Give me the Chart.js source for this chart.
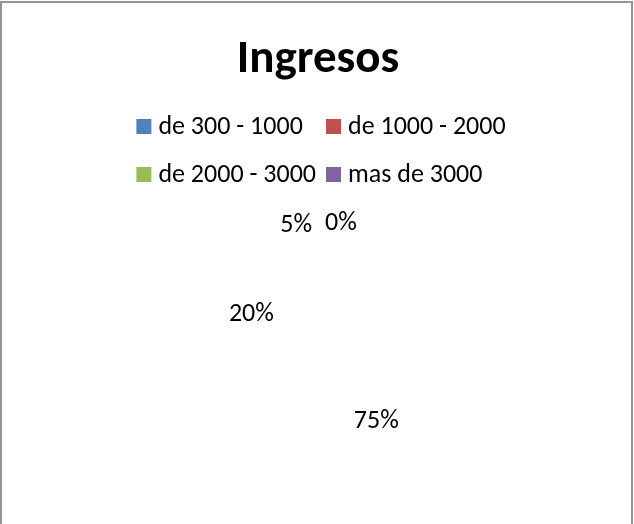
<!DOCTYPE html>
<html><head><meta charset="utf-8">
<script src="https://cdn.jsdelivr.net/npm/chart.js@4.4.0/dist/chart.umd.min.js"></script>
<style>
html,body{margin:0;padding:0;background:#fff;overflow:hidden}
#frame{position:absolute;left:0;top:1px;width:629px;height:600px;border:2px solid #959595;border-bottom:none}
#wrap{position:absolute;left:0;top:0;width:634px;height:524px}
</style>
</head><body>
<div id="frame"></div>
<div id="wrap"><canvas id="c" width="634" height="524"></canvas></div>
<script>
// ---- data ----
const chartTitle = 'Ingresos';
const categories = ['de 300 - 1000', 'de 1000 - 2000', 'de 2000 - 3000', 'mas de 3000'];
const percentValues = [75, 20, 5, 0];
const legendColors = ['#4F81BD', '#C0504D', '#9BBB59', '#8064A2'];

const FONT = '"Carlito","Lato",sans-serif';

const gridLegend = {
  id: 'gridLegend',
  afterDraw(chart) {
    const ctx = chart.ctx;
    ctx.save();
    ctx.font = '26px ' + FONT;
    ctx.textBaseline = 'alphabetic';
    ctx.textAlign = 'left';
    const box = 15, gap = 7, colGap = 10;
    const w = categories.map(t => ctx.measureText(t).width);
    const colW = [Math.max(w[0], w[2]), Math.max(w[1], w[3])];
    const total = 2 * (box + gap) + colW[0] + colGap + colW[1];
    const left = chart.width / 2 + 4 - total / 2;
    const colX = [left, left + box + gap + colW[0] + colGap];
    const baseY = 134, rowH = 48;
    categories.forEach((t, i) => {
      const x = colX[i % 2], y = baseY + Math.floor(i / 2) * rowH;
      ctx.fillStyle = legendColors[i];
      ctx.fillRect(x, y - box, box, box);
      ctx.fillStyle = '#000';
      ctx.fillText(t, x + box + gap, y);
    });
    ctx.restore();
  }
};

const pctLabels = {
  id: 'pctLabels',
  afterDatasetsDraw(chart) {
    const ctx = chart.ctx;
    const meta = chart.getDatasetMeta(0);
    const total = percentValues.reduce((a, b) => a + b, 0);
    ctx.save();
    ctx.font = '26px ' + FONT;
    ctx.fillStyle = '#000';
    ctx.textAlign = 'center';
    ctx.textBaseline = 'middle';
    const items = meta.data.map((arc, i) => {
      const p = arc.getProps(['x', 'y', 'startAngle', 'endAngle', 'outerRadius'], true);
      const mid = (p.startAngle + p.endAngle) / 2;
      const inside = percentValues[i] / total >= 0.1;
      const r = inside ? p.outerRadius * 0.66 : p.outerRadius + 15;
      const text = percentValues[i] + '%';
      return { text, x: p.x + Math.cos(mid) * r, y: p.y + Math.sin(mid) * r, w: ctx.measureText(text).width, inside };
    });
    // push overlapping outside labels apart horizontally
    const outs = items.filter(o => !o.inside);
    for (let i = 1; i < outs.length; i++) {
      for (let j = 0; j < i; j++) {
        const a = outs[j], b = outs[i];
        if (Math.abs(a.y - b.y) < 26) {
          const minDist = (a.w + b.w) / 2 + 13;
          if (Math.abs(b.x - a.x) < minDist) b.x = a.x + minDist;
        }
      }
    }
    items.forEach(o => ctx.fillText(o.text, o.x, o.y));
    ctx.restore();
  }
};

new Chart(document.getElementById('c'), {
  type: 'pie',
  data: {
    labels: categories,
    datasets: [{
      data: percentValues,
      backgroundColor: 'rgba(255,255,255,0)',
      borderWidth: 0
    }]
  },
  options: {
    responsive: false,
    animation: false,
    layout: { padding: { left: 2, right: 0, top: 0, bottom: 36 } },
    plugins: {
      legend: { display: false },
      tooltip: { enabled: false },
      title: {
        display: true,
        text: chartTitle,
        color: '#000',
        font: { family: FONT, size: 47, weight: 'bold', lineHeight: 1.2 },
        padding: { top: 32, bottom: 150 }
      }
    }
  },
  plugins: [pctLabels, gridLegend]
});
</script></body></html>
